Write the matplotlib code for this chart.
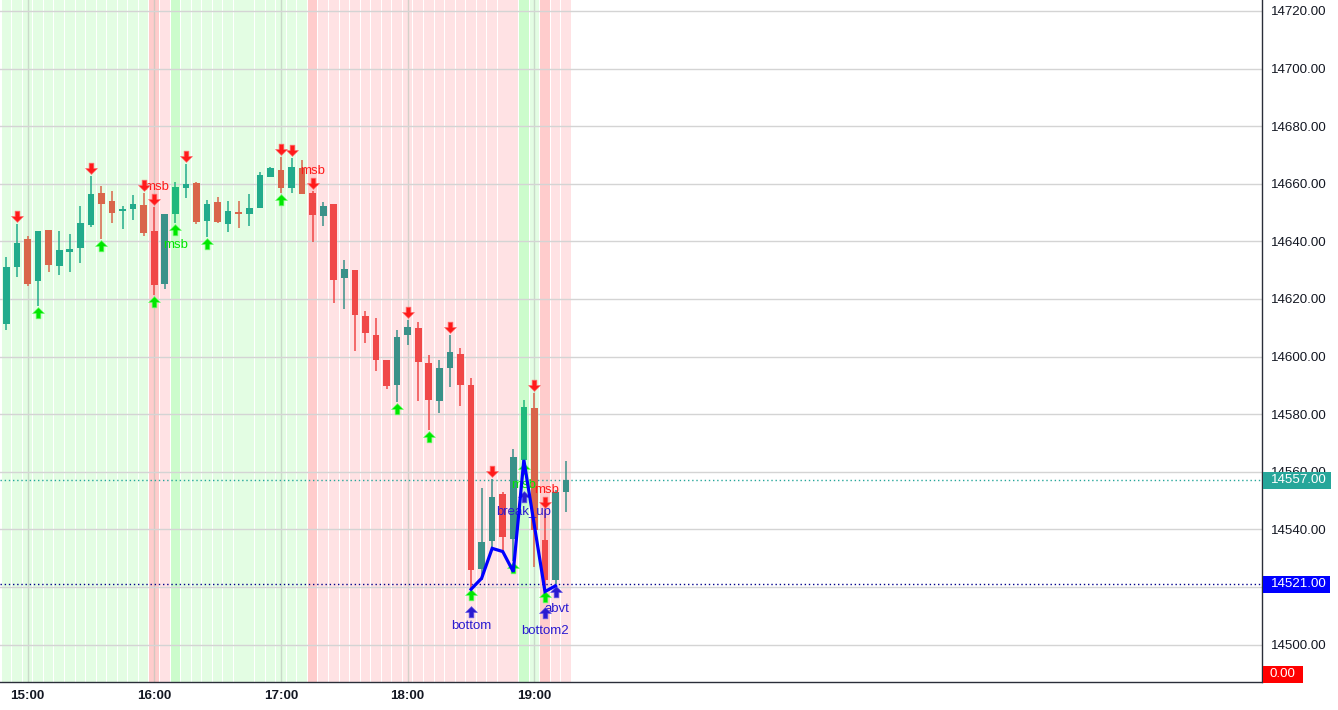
import matplotlib
matplotlib.use("Agg")
import matplotlib.pyplot as plt
import matplotlib.transforms as mtransforms
from matplotlib.path import Path
from matplotlib.patches import Rectangle

plt.rcParams['font.family'] = ['Liberation Sans', 'DejaVu Sans']

# 5-minute bars from 14:50 to 19:15 (bar index 0..53)
OPEN = [14611.4, 14631.2, 14640.8, 14626.4, 14644.0, 14631.6, 14636.4, 14637.8, 14645.7, 14656.9,
        14654.0, 14650.7, 14651.2, 14652.6, 14643.7, 14625.2, 14649.5, 14658.6, 14660.4, 14647.2,
        14653.7, 14645.9, 14650.2, 14649.5, 14651.7, 14662.5, 14664.8, 14658.6, 14665.4, 14656.9,
        14648.8, 14653.1, 14627.4, 14630.1, 14614.1, 14607.5, 14598.8, 14590.1, 14607.5, 14609.9,
        14597.8, 14584.7, 14596.1, 14600.9, 14590.1, 14526.2, 14536.0, 14552.3, 14536.6, 14564.1,
        14582.0, 14536.3, 14522.4, 14553.1]
HIGH = [14634.7, 14646.0, 14642.0, 14643.6, 14644.0, 14643.6, 14642.6, 14652.3, 14662.8, 14659.2,
        14657.5, 14652.3, 14656.1, 14656.9, 14652.1, 14649.5, 14660.5, 14666.9, 14660.7, 14654.4,
        14655.3, 14653.9, 14654.1, 14656.4, 14664.0, 14665.8, 14669.4, 14668.8, 14668.3, 14657.6,
        14653.7, 14653.1, 14633.5, 14630.1, 14615.7, 14613.4, 14598.8, 14609.2, 14612.7, 14612.0,
        14600.5, 14598.8, 14607.5, 14602.9, 14592.4, 14554.2, 14557.5, 14553.1, 14567.8, 14584.9,
        14587.2, 14546.7, 14553.5, 14563.7]
LOW = [14609.2, 14627.5, 14624.6, 14617.7, 14629.5, 14628.4, 14629.5, 14632.6, 14645.1, 14640.8,
       14646.5, 14644.3, 14647.4, 14642.0, 14621.4, 14623.5, 14646.5, 14654.9, 14645.9, 14641.6,
       14646.3, 14643.4, 14644.8, 14645.5, 14651.7, 14662.2, 14656.7, 14656.7, 14656.3, 14639.9,
       14645.3, 14618.5, 14616.5, 14601.9, 14604.8, 14595.1, 14588.6, 14584.2, 14604.0, 14584.6,
       14574.5, 14580.5, 14589.6, 14583.0, 14519.5, 14522.4, 14532.8, 14532.8, 14529.0, 14563.5,
       14527.0, 14518.9, 14521.0, 14546.1]
CLOSE = [14631.1, 14639.4, 14625.2, 14643.6, 14631.9, 14637.0, 14637.4, 14646.4, 14656.4, 14652.9,
         14650.0, 14651.2, 14653.0, 14643.0, 14625.0, 14649.5, 14658.9, 14659.9, 14646.8, 14653.0,
         14646.8, 14650.5, 14649.4, 14651.6, 14663.0, 14665.5, 14658.6, 14665.7, 14656.3, 14649.3,
         14652.3, 14626.6, 14630.4, 14614.6, 14608.3, 14598.8, 14589.9, 14606.8, 14610.3, 14598.2,
         14584.9, 14595.9, 14601.6, 14590.1, 14525.9, 14535.5, 14551.3, 14537.5, 14565.0, 14582.4,
         14539.8, 14522.4, 14553.1, 14557.0]
# trend state per bar: 1 up, -1 down, 2 / -2 = bar where the state flips
REGIME = [1] * 14 + [-2, -1, 2] + [1] * 12 + [-2] + [-1] * 19 + [2, 1, -2, -1, -1]

HOUR_BARS = [2, 14, 26, 38, 50]
HOUR_LABELS = ['15:00', '16:00', '17:00', '18:00', '19:00']
PRICE_TICKS = list(range(14500, 14721, 20))

SELL_ARROW_BARS = [1, 8, 13, 14, 17, 26, 27, 29, 38, 42, 46, 50, 51]
BUY_ARROW_BARS = [3, 9, 14, 16, 19, 26, 37, 40, 44, 48, 49, 51]
BLUE_ARROW_BARS = [44, 49, 51, 52]
BLUE_ARROW_PRICES = [14511.4, 14551.1, 14511.0, 14518.1]

ZIGZAG_BARS = [44, 45, 46, 47, 48, 49, 51, 52]
ZIGZAG_PRICES = [14519.2, 14523.0, 14533.4, 14532.3, 14525.3, 14564.1, 14518.4, 14520.4]

LABEL_TEXTS = ['msb', 'msb', 'msb', 'msb', 'msb', 'break_up', 'bottom', 'bottom2', 'abvt']
LABEL_BARS = [14.2, 16, 29, 49, 51.2, 49, 44, 51, 52.1]
LABEL_PRICES = [14658.9, 14638.8, 14664.4, 14555.4, 14553.7, 14546.2, 14506.4, 14504.6, 14512.4]
LABEL_KIND = ['sell', 'buy', 'sell', 'buy', 'sell', 'pattern', 'pattern', 'pattern', 'pattern']

LAST_PRICE = 14557.0
BOTTOM_LEVEL = 14521.0
OSC_VALUE = 0.00

BG_COLORS = {1: '#e3fde3', 2: '#ccfccc', -1: '#ffe2e4', -2: '#ffcccc'}
KIND_COLORS = {'sell': '#ff1a1a', 'buy': '#00e600', 'pattern': '#2a1ad0'}


def candle_color(regime, bull):
    if regime == 2:
        return '#20b97c'
    if regime > 0:
        return '#22ab8c' if bull else '#d9654b'
    return '#3a9189' if bull else '#f04848'


def arrow_path(down=True):
    s = 1 if down else -1
    verts = [(-0.2, 0.45 * s), (0.2, 0.45 * s), (0.2, 0.0), (0.5, 0.0), (0.0, -0.5 * s),
             (-0.5, 0.0), (-0.2, 0.0), (-0.2, 0.45 * s)]
    codes = [Path.MOVETO] + [Path.LINETO] * 6 + [Path.CLOSEPOLY]
    return Path(verts, codes)


fig = plt.figure(figsize=(13.38, 7.10), dpi=100)
ax = fig.add_axes([0, 28 / 710, 1262 / 1338, 682 / 710])
ymin, ymax = 14487.0, 14723.8
ax.set_xlim(-0.606, 118.9)
ax.set_ylim(ymin, ymax)

n = len(OPEN)
idx = list(range(n))

# background regime strips
ax.bar(idx, ymax - ymin, bottom=ymin, width=0.91, color=[BG_COLORS[r] for r in REGIME],
       linewidth=0, zorder=0)

# grid; the tick hidden under the level marker box is left blank
ax.set_axisbelow(True)
ax.set_yticks(PRICE_TICKS)
ax.set_yticklabels(['' if abs(p - BOTTOM_LEVEL) < 5 else f'{p:.2f}' for p in PRICE_TICKS])
ax.set_xticks(HOUR_BARS)
ax.set_xticklabels(HOUR_LABELS, fontweight='bold')
ax.yaxis.grid(True, color='#d4d4d4', lw=1)
ax.xaxis.grid(True, color='#b8c4b8', lw=1, alpha=0.6)

# candles
colors = [candle_color(REGIME[i], CLOSE[i] >= OPEN[i]) for i in idx]
ax.vlines(idx, LOW, HIGH, colors=colors, lw=1.1, zorder=3)
bodies = [max(abs(CLOSE[i] - OPEN[i]), 0.35) for i in idx]
ax.bar(idx, bodies, bottom=[min(OPEN[i], CLOSE[i]) for i in idx], width=0.63,
       color=colors, linewidth=0, zorder=4)

# signal arrows
up_shift = ax.transData + mtransforms.ScaledTranslation(0, 0.08, fig.dpi_scale_trans)
dn_shift = ax.transData + mtransforms.ScaledTranslation(0, -0.07, fig.dpi_scale_trans)
ax.plot(SELL_ARROW_BARS, [HIGH[i] for i in SELL_ARROW_BARS], ls='none', marker=arrow_path(True),
        ms=8.5, color=KIND_COLORS['sell'], mec='#ff7070', mew=0.5, transform=up_shift, zorder=6)
ax.plot(BUY_ARROW_BARS, [LOW[i] for i in BUY_ARROW_BARS], ls='none', marker=arrow_path(False),
        ms=8.5, color=KIND_COLORS['buy'], mec='#70ff70', mew=0.5, transform=dn_shift, zorder=6)
ax.plot(BLUE_ARROW_BARS, BLUE_ARROW_PRICES, ls='none', marker=arrow_path(False),
        ms=8.5, color=KIND_COLORS['pattern'], mec='#6a5ae6', mew=0.5, zorder=6)

# labels
for t, b, p, k in zip(LABEL_TEXTS, LABEL_BARS, LABEL_PRICES, LABEL_KIND):
    ax.text(b, p, t, color=KIND_COLORS[k], fontsize=9.5, ha='center', va='center', zorder=5)

# zigzag line
ax.plot(ZIGZAG_BARS, ZIGZAG_PRICES, color='#0000ff', lw=2.3, zorder=7, solid_joinstyle='miter')

# price lines
ax.axhline(LAST_PRICE, color='#26a69a', lw=1, ls=(0, (1, 2)), zorder=2)
ax.axhline(BOTTOM_LEVEL, color='#00008c', lw=1, ls=(0, (1, 2)), zorder=2)

# spines / ticks
for side in ('top', 'left'):
    ax.spines[side].set_visible(False)
for side in ('right', 'bottom'):
    ax.spines[side].set_color('#2a2e39')
    ax.spines[side].set_linewidth(1)
ax.yaxis.tick_right()
ax.tick_params(axis='y', length=0, pad=6.5, labelsize=9.6, labelcolor='#131722')
ax.tick_params(axis='x', length=0, pad=6, labelsize=9.6, labelcolor='#131722')

# price scale labels
blend = mtransforms.blended_transform_factory(ax.transAxes, ax.transData)
box_h = 17 / 2.88
for price, fc, w in [(LAST_PRICE, '#26a69a', 68), (BOTTOM_LEVEL, '#0000ff', 67)]:
    ax.add_patch(Rectangle((1.0008, price - box_h / 2), w / 1262, box_h, transform=blend,
                           facecolor=fc, edgecolor='none', clip_on=False, zorder=10))
    ax.text(1.0 + 9 / 1262, price, f'{price:.2f}', transform=blend, color='white', fontsize=9.6,
            ha='left', va='center', clip_on=False, zorder=11)
ax.add_patch(Rectangle((1.0008, -0.0015), 40 / 1262, 17 / 682, transform=ax.transAxes,
                       facecolor='#ff0000', edgecolor='none', clip_on=False, zorder=10))
ax.text(1.0 + 7 / 1262, 0.011, f'{OSC_VALUE:.2f}', transform=ax.transAxes, color='white',
        fontsize=9.6, ha='left', va='center', clip_on=False, zorder=11)

fig.savefig('out.png', dpi=100, facecolor='white')
